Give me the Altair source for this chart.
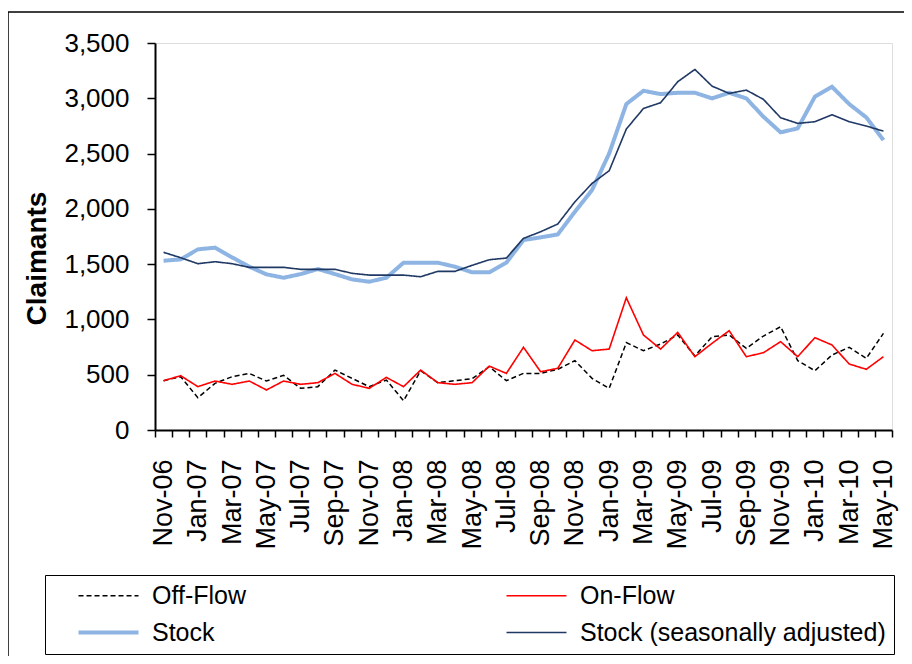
import altair as alt
import pandas as pd

months = ["Nov-06","Dec-06","Jan-07","Feb-07","Mar-07","Apr-07","May-07","Jun-07","Jul-07","Aug-07",
          "Sep-07","Oct-07","Nov-07","Dec-07","Jan-08","Feb-08","Mar-08","Apr-08","May-08","Jun-08",
          "Jul-08","Aug-08","Sep-08","Oct-08","Nov-08","Dec-08","Jan-09","Feb-09","Mar-09","Apr-09",
          "May-09","Jun-09","Jul-09","Aug-09","Sep-09","Oct-09","Nov-09","Dec-09","Jan-10","Feb-10",
          "Mar-10","Apr-10","May-10"]

off_flow = [446,482,292,422,482,512,443,494,377,392,542,467,392,452,265,536,428,446,464,572,446,512,
            512,549,627,467,377,790,717,778,859,669,844,859,738,850,934,627,536,678,748,648,874]
on_flow = [446,491,392,443,413,443,362,443,413,428,512,413,377,476,392,542,428,413,428,578,512,748,
           527,558,814,717,732,1196,859,732,883,663,784,898,663,699,799,663,835,769,597,549,663]
stock = [1531,1543,1634,1649,1561,1477,1408,1377,1410,1456,1410,1362,1341,1377,1513,1513,1513,1477,
         1426,1426,1513,1718,1742,1769,1974,2170,2501,2948,3068,3038,3050,3050,2999,3050,2999,2833,
         2692,2728,3014,3104,2948,2827,2622]
stock_sa = [1607,1558,1504,1522,1504,1471,1471,1471,1453,1453,1453,1417,1401,1401,1401,1386,1435,
            1435,1489,1540,1555,1733,1793,1863,2064,2230,2345,2722,2908,2960,3150,3261,3110,3044,
            3074,2990,2824,2773,2788,2851,2788,2749,2703]

series_names = ["Off-Flow", "On-Flow", "Stock", "Stock (seasonally adjusted)"]
series_values = [off_flow, on_flow, stock, stock_sa]
y_ticks = [0, 500, 1000, 1500, 2000, 2500, 3000, 3500]

rows = []
for name, vals in zip(series_names, series_values):
    for i, (m, v) in enumerate(zip(months, vals)):
        rows.append({"month": m, "idx": i, "series": name, "value": v})
df = pd.DataFrame(rows)

FONT = "Liberation Sans"

legend = alt.Legend(
    title=None, orient="none", legendX=-110, legendY=532, columns=2, direction="horizontal",
    symbolType="M-4,0H4", symbolSize=225, symbolOffset=43,
    labelFont=FONT, labelFontSize=25, labelColor="black", labelOffset=31,
    rowPadding=11, columnPadding=235, padding=8, strokeColor="black",
    labelLimit=400,
)

lines = alt.Chart(df).mark_line().encode(
    x=alt.X("month:O", sort=months, bandPosition=0.5,
            scale=alt.Scale(type="band", paddingInner=0, paddingOuter=0),
            axis=alt.Axis(title=None, labelAngle=270, labelAlign="right", labelBaseline="middle",
                          labelFont=FONT, labelFontSize=27, labelColor="black", labelPadding=22,
                          tickBand="extent", tickSize=7, tickColor="black", tickWidth=1.5,
                          domainColor="black", domainWidth=2, grid=False, labelOverlap=False,
                          labelExpr="test(regexp('^(Nov|Jan|Mar|May|Jul|Sep)'), datum.value) ? datum.value : ''")),
    y=alt.Y("value:Q", scale=alt.Scale(domain=[0, 3500], nice=False),
            axis=alt.Axis(title="Claimants", values=y_ticks, format=",.0f",
                          labelFont=FONT, labelFontSize=26, labelColor="black", labelPadding=18,
                          titleFont=FONT, titleFontSize=28, titleFontWeight="bold", titleColor="black",
                          titlePadding=12, titleY=215, tickSize=8, tickColor="black", tickWidth=1.5,
                          domainColor="black", domainWidth=2, grid=False)),
    color=alt.Color("series:N", scale=alt.Scale(domain=series_names,
                    range=["#000000", "#FF0000", "#8DB4E2", "#1F3864"]), legend=legend),
    strokeDash=alt.StrokeDash("series:N", scale=alt.Scale(domain=series_names,
                    range=[[5, 3], [1, 0], [1, 0], [1, 0]]), legend=legend),
    strokeWidth=alt.StrokeWidth("series:N", scale=alt.Scale(type="ordinal", domain=series_names,
                    range=[1.5, 1.6, 4, 1.6]), legend=legend),
    order=alt.Order("idx:Q"),
)

frame = alt.Chart(alt.Data(values=[{}])).mark_rect(filled=False, stroke="black", strokeWidth=1.5).encode(
    x=alt.value(-147), y=alt.value(-31), x2=alt.value(2000), y2=alt.value(2000)
)

chart = alt.layer(lines, frame).properties(
    width=737, height=387,
    autosize=alt.AutoSizeParams(type="none"),
    padding={"left": 147, "top": 35, "right": 12, "bottom": 226},
).configure_view(stroke="#888888", strokeWidth=1.5).configure(background="white")

chart.save("out.html", embed_options={"renderer": "svg", "actions": False})
